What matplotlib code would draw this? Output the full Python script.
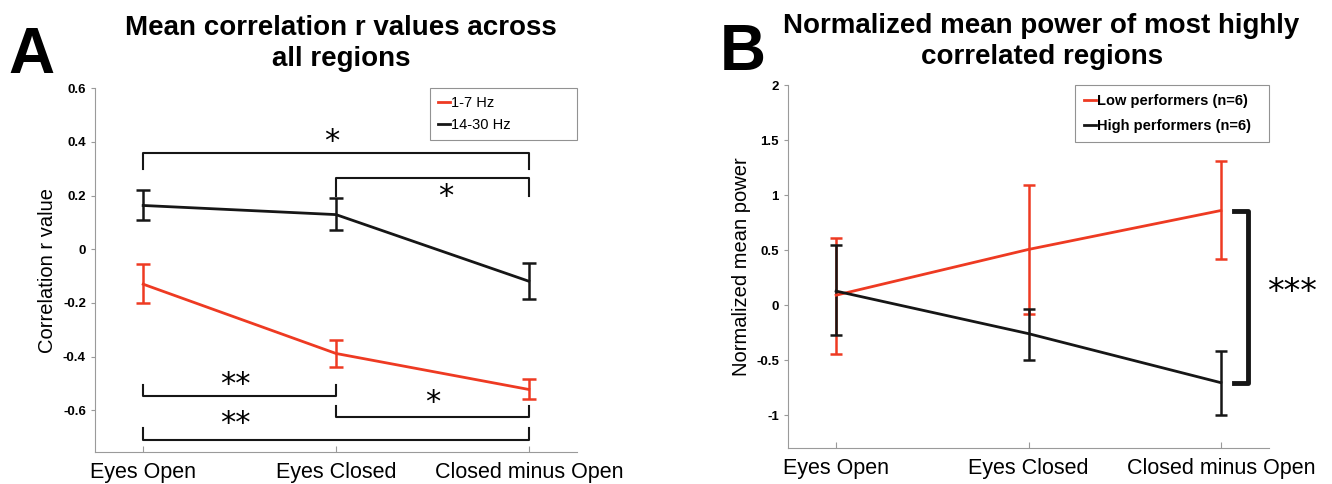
import matplotlib
matplotlib.use("Agg")
import matplotlib.pyplot as plt, numpy as np

plt.rcParams['font.family'] = ['Liberation Sans', 'DejaVu Sans']

conditions = ["Eyes Open", "Eyes Closed", "Closed minus Open"]
x = [1, 2, 3]

# panel A: mean correlation r values
theta_mean = [-0.13, -0.388, -0.522]
theta_lo = [-0.199, -0.437, -0.558]
theta_hi = [-0.055, -0.337, -0.483]
beta_mean = [0.163, 0.129, -0.119]
beta_lo = [0.108, 0.071, -0.187]
beta_hi = [0.221, 0.189, -0.052]

# significance brackets in A: (x start, x end, bar y, leg y, label, label x, label y)
brackets_A = [
    (1, 3, 0.357, 0.298, "*", 1.98, 0.40),
    (2, 3, 0.265, 0.200, "*", 2.57, 0.195),
    (1, 2, -0.546, -0.505, "**", 1.48, -0.505),
    (2, 3, -0.626, -0.583, "*", 2.50, -0.570),
    (1, 3, -0.709, -0.667, "**", 1.48, -0.648),
]

# panel B: normalized mean power
low_mean = [0.09, 0.506, 0.86]
low_lo = [-0.448, -0.085, 0.415]
low_hi = [0.606, 1.088, 1.31]
high_mean = [0.127, -0.26, -0.706]
high_lo = [-0.276, -0.50, -1.0]
high_hi = [0.542, -0.04, -0.418]

red = '#ee3a22'
blk = '#161616'

fig = plt.figure(figsize=(13.32, 4.84), dpi=100)
axA = fig.add_axes([0.0713, 0.066, 0.3619, 0.752])
axB = fig.add_axes([0.5916, 0.0744, 0.3611, 0.7496])


def style(ax):
    ax.spines['top'].set_visible(False)
    ax.spines['right'].set_visible(False)
    for s in ['left', 'bottom']:
        ax.spines[s].set_color('#9a9a9a')
        ax.spines[s].set_linewidth(0.8)
    ax.set_xlim(0.75, 3.25)
    ax.set_xticks(x)
    ax.set_xticklabels(conditions, fontsize=15.5)
    ax.tick_params(axis='x', direction='in', length=4, color='#9a9a9a', pad=7)
    ax.tick_params(axis='y', direction='out', length=3, color='#9a9a9a', labelsize=9.5)
    for lab in ax.get_yticklabels():
        lab.set_fontweight('bold')


def errs(mean, lo, hi):
    m = np.array(mean)
    return [m - np.array(lo), np.array(hi) - m]


# ---- panel A
axA.errorbar(x, theta_mean, yerr=errs(theta_mean, theta_lo, theta_hi), color=red,
             lw=2, capsize=5, capthick=1.8, elinewidth=1.8)
axA.errorbar(x, beta_mean, yerr=errs(beta_mean, beta_lo, beta_hi), color=blk,
             lw=2, capsize=5, capthick=1.8, elinewidth=1.8)
axA.plot([], [], color=red, lw=2, label="1-7 Hz")
axA.plot([], [], color=blk, lw=2, label="14-30 Hz")
for x0, x1, yb, yl, lab, tx, ty in brackets_A:
    axA.plot([x0, x0, x1, x1], [yl, yb, yb, yl], color=blk, lw=1.5)
    axA.text(tx, ty, lab, fontsize=22, ha='center', va='center', family='DejaVu Sans')
axA.set_ylim(-0.755, 0.6)
axA.set_yticks([-0.6, -0.4, -0.2, 0, 0.2, 0.4, 0.6])
axA.set_yticklabels(["-0.6", "-0.4", "-0.2", "0", "0.2", "0.4", "0.6"])
axA.set_ylabel("Correlation r value", fontsize=14.5, labelpad=4)
style(axA)
legA = axA.legend(loc='upper left', bbox_to_anchor=(0.695, 1.0, 0.305, 0.0), mode='expand',
                  fontsize=10.5, handlelength=0.8, handletextpad=0.1,
                  fancybox=False, borderaxespad=0, borderpad=0.55, labelspacing=0.55)
legA.get_frame().set_edgecolor('#777777')
legA.get_frame().set_linewidth(0.8)
fig.text(0.256, 0.91, "Mean correlation r values across\nall regions", fontsize=20,
         fontweight='bold', ha='center', va='center', linespacing=1.25)
fig.text(0.006, 0.885, "A", fontsize=46, fontweight='bold', ha='left', va='center')

# ---- panel B
axB.errorbar(x, low_mean, yerr=errs(low_mean, low_lo, low_hi), color=red,
             lw=2, capsize=4, capthick=1.8, elinewidth=1.8)
axB.errorbar(x, high_mean, yerr=errs(high_mean, high_lo, high_hi), color=blk,
             lw=2, capsize=4, capthick=1.8, elinewidth=1.8)
axB.plot([], [], color=red, lw=2, label="Low performers (n=6)")
axB.plot([], [], color=blk, lw=2, label="High performers (n=6)")
axB.plot([3.07, 3.14, 3.14, 3.07], [low_mean[2], low_mean[2], high_mean[2], high_mean[2]],
         color=blk, lw=3.5, clip_on=False)
axB.text(3.37, 0.11, "***", fontsize=24, ha='center', va='center', family='DejaVu Sans')
axB.set_ylim(-1.3, 2)
axB.set_yticks([-1, -0.5, 0, 0.5, 1, 1.5, 2])
axB.set_yticklabels(["-1", "-0.5", "0", "0.5", "1", "1.5", "2"])
axB.set_ylabel("Normalized mean power", fontsize=14.5, labelpad=4)
style(axB)
legB = axB.legend(loc='upper left', bbox_to_anchor=(0.597, 1.0, 0.403, 0.0), mode='expand',
                  handlelength=0.8, handletextpad=0.1,
                  fancybox=False, borderaxespad=0, borderpad=0.6, labelspacing=0.75,
                  prop={'weight': 'bold', 'size': 10.5})
legB.get_frame().set_edgecolor('#777777')
legB.get_frame().set_linewidth(0.8)
fig.text(0.782, 0.915, "Normalized mean power of most highly\ncorrelated regions", fontsize=20,
         fontweight='bold', ha='center', va='center', linespacing=1.25)
fig.text(0.54, 0.89, "B", fontsize=46, fontweight='bold', ha='left', va='center')

fig.savefig("out.png", dpi=100)
